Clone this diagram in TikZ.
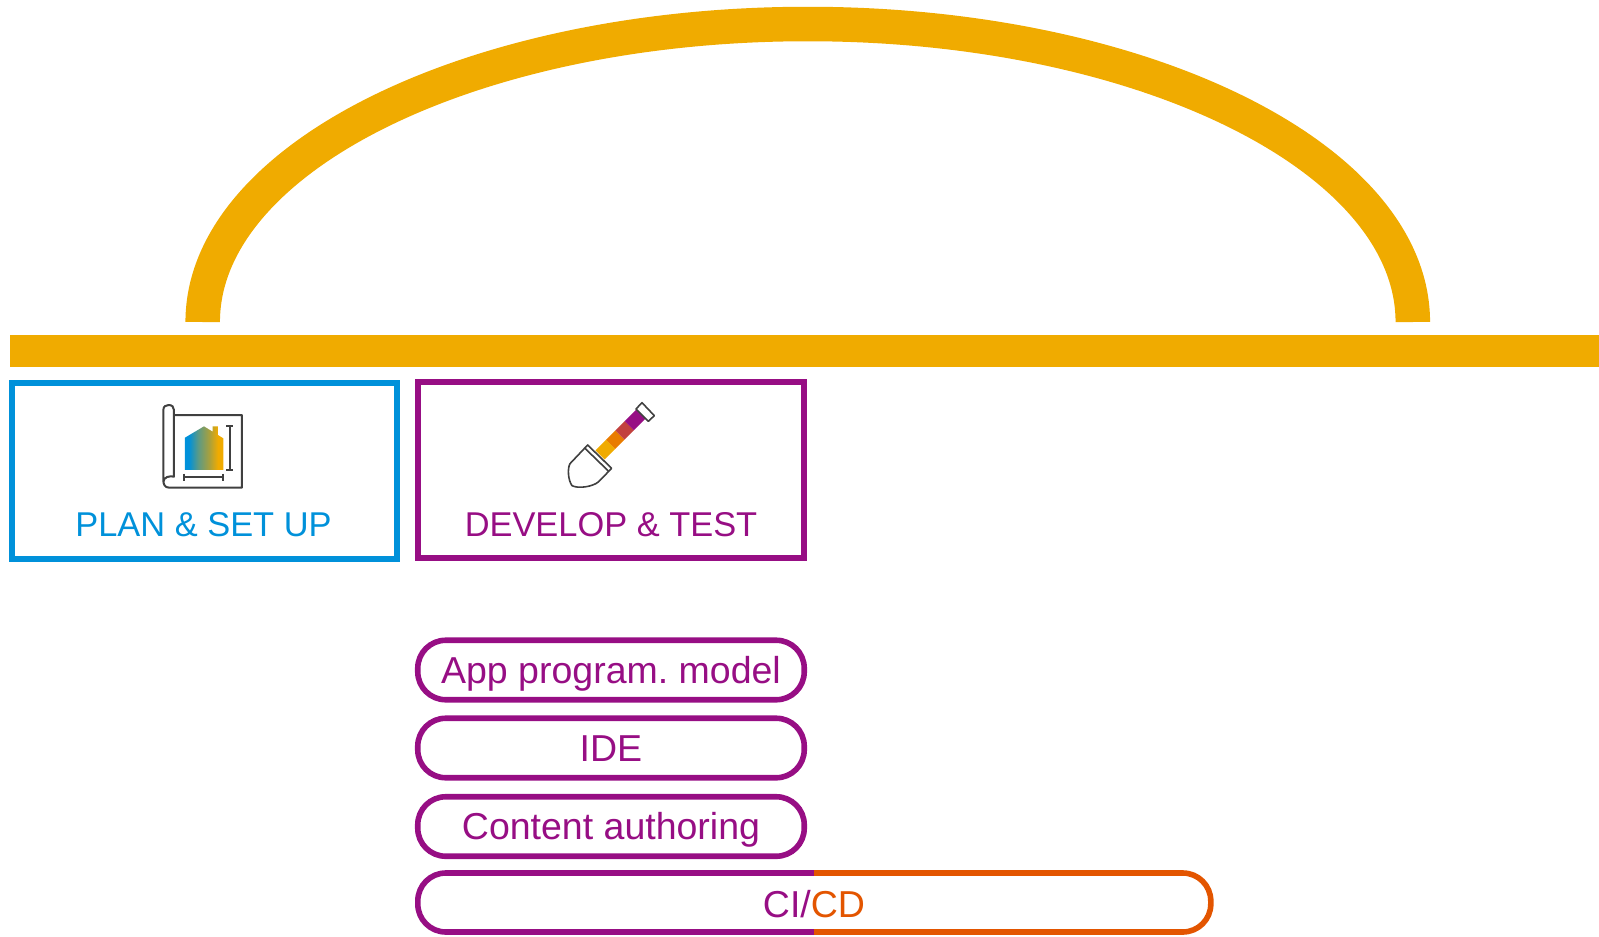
\documentclass[tikz,border=0pt]{standalone}
\usepackage{fontspec}
\setmainfont{Liberation Sans}
\frenchspacing
\definecolor{amberc}{HTML}{F0AB00}
\definecolor{bluec}{HTML}{0091DA}
\definecolor{purplec}{HTML}{970E84}
\definecolor{orangec}{HTML}{E35500}
\definecolor{inkc}{HTML}{404040}
\definecolor{tealc}{HTML}{5B9A86}
\definecolor{olivec}{HTML}{A5A040}
\pgfdeclarehorizontalshading{houseshade}{100bp}{color(0bp)=(bluec);color(30bp)=(bluec);color(42bp)=(tealc);color(56bp)=(olivec);color(68bp)=(amberc);color(100bp)=(amberc)}
\tikzset{
  boxnode/.style={draw,line width=5.6pt,rectangle,inner sep=0pt},
  pilltext/.style={inner sep=0pt,text height=30pt,text depth=4pt,text=purplec,font=\fontsize{37.5}{40}\selectfont},
  pillnode/.style={pilltext,draw=purplec,line width=5.6pt,rectangle,rounded corners=28pt,minimum width=386.5pt,minimum height=59.5pt},
  pillhalf/.style={line width=5.6pt,rounded corners=28pt},
  boxlabel/.style={inner sep=0pt,font=\fontsize{34.4}{40}\selectfont}
}
\begin{document}
\begin{tikzpicture}[x=1pt,y=-1pt]
\useasboundingbox (0,0) rectangle (1599,937);
% arc and bar
\coordinate (arcL) at (202.7,322);
\coordinate (arcR) at (1412.8,322);
\draw[amberc,line width=34.5pt] (arcL) .. controls (202.7,157.4) and (473.6,24) .. (807.7,24) .. controls (1141.8,24) and (1412.8,157.4) .. (arcR);
\node[fill=amberc,inner sep=0pt,minimum width=1589pt,minimum height=32pt,anchor=north west] (bar) at (10,335) {};
% boxes
\node[boxnode,draw=bluec,minimum width=384.8pt,minimum height=176pt] (plan) at (204.3,471) {};
\node[boxnode,draw=purplec,minimum width=386pt,minimum height=176pt] (dev) at (611,470) {};
\node[boxlabel,text=bluec] (planlabel) at (203.5,524.5) {PLAN \& SET UP};
\node[boxlabel,text=purplec] (devlabel) at (611,524.5) {DEVELOP \& TEST};
% plan icon
\begin{scope}[shift={(130,385)},x=0.3333pt,y=-0.3333pt]
  \shade[shading=houseshade]
    (165,158) -- (222,124) -- (248,140) -- (248,124) -- (264,124) -- (264,150) -- (280,160) -- (280,255) -- (165,255) -- cycle;
  \draw[draw=inkc,line width=2pt,line join=round] (132,90) -- (336,90) -- (336,308) -- (118,308) .. controls (104,308) and (100,298) .. (100,285) -- (100,75) .. controls (100,64) and (108,60) .. (116,60) .. controls (126,60) and (132,66) .. (132,75) -- (132,275) .. controls (120,272) and (100,275) .. (100,292);
  \draw[draw=inkc,line width=2pt] (300,122) -- (300,255) (289,122) -- (310,122) (289,255) -- (310,255);
  \draw[draw=inkc,line width=2pt] (163,276) -- (280,276) (163,266) -- (163,287) (280,266) -- (280,287);
\end{scope}
% shovel icon
\begin{scope}[shift={(540,385)},x=0.3333pt,y=-0.3333pt]
  \draw[amberc,line width=13pt] (180,210) -- (212,178);
  \draw[orangec!55!amberc,line width=13pt] (212,178) -- (240,150);
  \draw[orangec!45!purplec!85!amberc,line width=13pt] (240,150) -- (268,122);
  \draw[purplec,line width=13pt] (268,122) -- (302,88);
  \draw[draw=inkc,line width=1.6pt,line join=round] (288,72) -- (306,53) -- (343,92) -- (325,109) -- cycle;
  \draw[draw=inkc,line width=1.6pt,line join=round,fill=white] (143,180) -- (215,250) -- (176,290) .. controls (160,305) and (115,312) .. (96,302) .. controls (84,285) and (82,250) .. (90,236) -- cycle;
  \draw[draw=inkc,line width=1.6pt] (135,190) -- (205,258);
\end{scope}
% pills
\node[pillnode] (app) at (611,670) {App program. model};
\node[pillnode] (ide) at (611,748) {IDE};
\node[pillnode] (content) at (611,826.5) {Content authoring};
\coordinate (cisplitT) at (814,873);
\coordinate (cisplitB) at (814,932);
\draw[purplec,pillhalf] (cisplitT) -- (417.8,873) -- (417.8,932) -- (cisplitB);
\draw[orangec,pillhalf] (cisplitT) -- (1210.8,873) -- (1210.8,932) -- (cisplitB);
\node[pilltext] (cicd) at (814,904.5) {CI/\textcolor{orangec}{CD}};
\end{tikzpicture}
\end{document}
